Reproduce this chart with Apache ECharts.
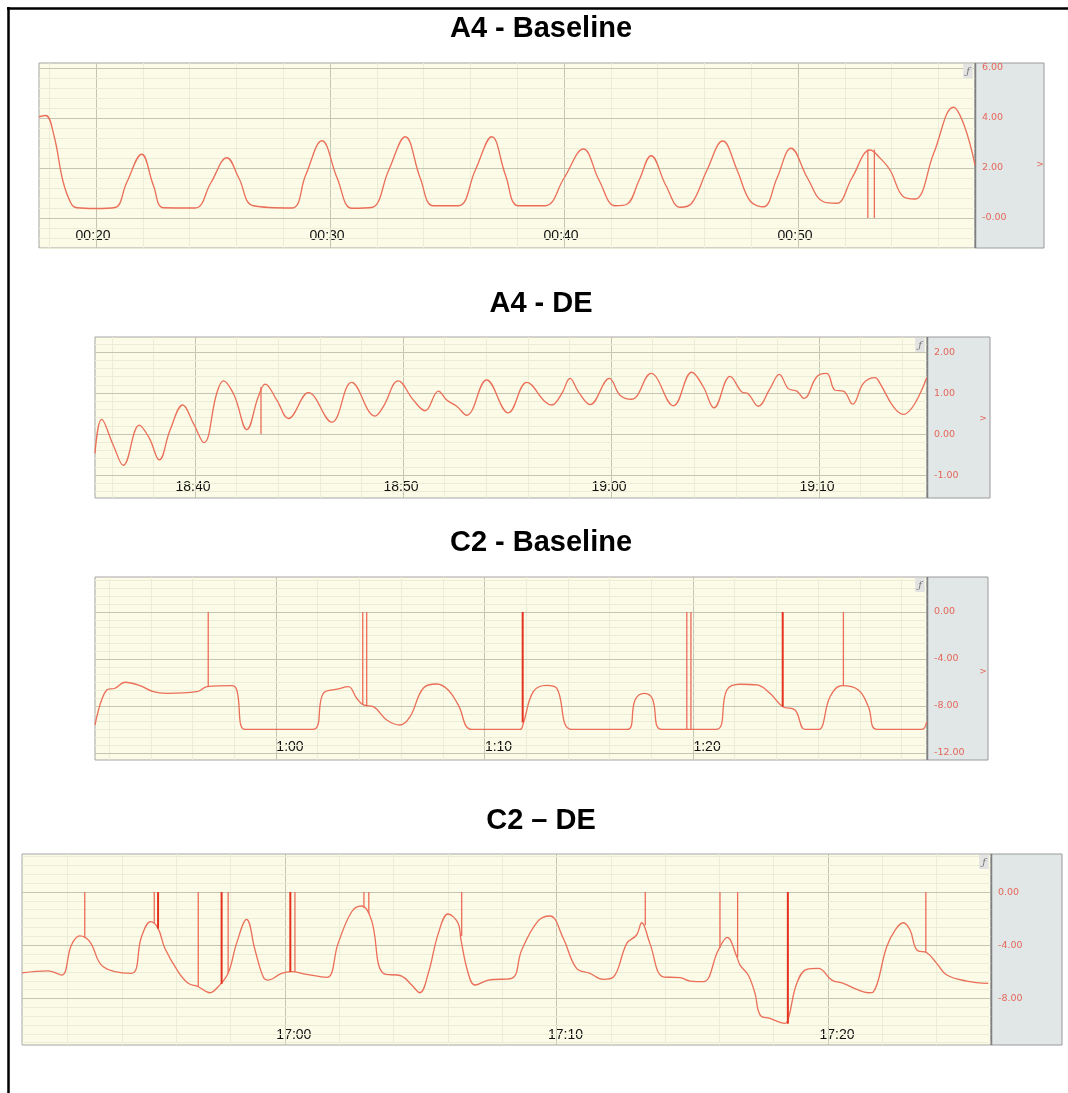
<!DOCTYPE html>
<html><head><meta charset="utf-8">
<script src="https://cdn.jsdelivr.net/npm/echarts@6/dist/echarts.min.js"></script>
<style>html,body{margin:0;padding:0;background:#fff}#c{width:1068px;height:1093px}</style>
</head><body><div id="c"></div>
<script>
// ---------- DATA ----------
const p1Title = 'A4 - Baseline';
const p1Data = [[17.56,4.05],[17.85,4.1],[18.2,3.3],[18.59,1.45],[18.95,0.55],[19.18,0.41],[19.96,0.38],[20.81,0.42],[21.3,1.4],[21.95,2.55],[22.45,1.3],[22.88,0.41],[24.23,0.4],[24.9,1.4],[25.59,2.41],[26.1,1.6],[26.72,0.49],[28.36,0.4],[28.95,1.7],[29.65,3.09],[30.3,1.6],[30.93,0.39],[31.78,0.42],[32.5,1.9],[33.21,3.25],[33.85,1.6],[34.41,0.49],[35.48,0.49],[36.2,1.9],[36.91,3.25],[37.5,1.7],[38.05,0.49],[39.19,0.49],[40.0,1.6],[40.82,2.76],[41.5,1.5],[42.18,0.49],[42.68,0.55],[43.2,1.5],[43.72,2.49],[44.35,1.3],[44.96,0.43],[45.46,0.6],[46.1,1.9],[46.78,3.08],[47.4,1.9],[47.95,0.68],[48.52,0.45],[49.1,1.6],[49.7,2.79],[50.4,1.6],[51.08,0.65],[51.65,0.59],[52.3,1.6],[53.08,2.72],[53.5,2.4],[53.93,1.92],[54.5,0.85],[55.0,0.76],[55.8,2.6],[56.64,4.43],[57.1,3.7],[57.56,2.12]];
const p1Spikes = [[52.98,2.74,0],[53.26,2.74,0]];
const p1SpikesStrong = [];
const p1XTicks = [20,30,40,50];
const p1XLabels = ['00:20','00:30','00:40','00:50'];
const p1YTicks = [0,2,4,6];
const p1YLabels = ['-0.00','2.00','4.00','6.00'];

const p2Title = 'A4 - DE';
const p2Data = [[35.19,-0.47],[35.51,0.36],[36.07,-0.27],[36.55,-0.76],[37.32,0.22],[37.8,-0.1],[38.28,-0.63],[38.8,0.1],[39.41,0.71],[39.92,0.26],[40.43,-0.21],[41.04,0.99],[41.36,1.3],[41.88,0.95],[42.49,0.11],[43.04,0.91],[43.37,1.22],[43.93,0.83],[44.49,0.38],[45.45,1.01],[46.57,0.29],[47.53,1.26],[48.65,0.44],[49.05,0.67],[49.77,1.3],[50.5,0.83],[51.06,0.57],[51.7,1.05],[52.1,0.83],[52.58,0.68],[53.06,0.46],[54.02,1.32],[55.06,0.52],[55.95,1.26],[56.83,0.79],[57.15,0.71],[57.63,0.99],[58.03,1.36],[58.43,1.03],[58.99,0.72],[59.92,1.36],[60.43,0.95],[61.0,0.85],[61.92,1.48],[63.0,0.69],[63.88,1.51],[64.44,1.15],[64.95,0.64],[65.72,1.41],[66.28,1.03],[66.6,0.98],[67.08,0.68],[67.64,1.11],[68.09,1.46],[68.52,1.11],[68.93,1.05],[69.28,0.87],[69.89,1.4],[70.37,1.48],[70.77,1.07],[71.17,1.05],[71.62,0.73],[72.13,1.24],[72.69,1.38],[72.93,1.24],[73.57,0.67],[74.05,0.48],[75.18,1.38]];
const p2Spikes = [[43.17,1.15,0]];
const p2SpikesStrong = [];
const p2XTicks = [40,50,60,70];
const p2XLabels = ['18:40','18:50','19:00','19:10'];
const p2YTicks = [-1,0,1,2];
const p2YLabels = ['-1.00','0.00','1.00','2.00'];

const p3Title = 'C2 - Baseline';
const p3Data = [[51.32,-9.62],[51.88,-6.64],[52.28,-6.49],[52.76,-5.98],[53.48,-6.27],[54.12,-6.78],[54.76,-6.92],[56.2,-6.78],[56.7,-6.36],[57.88,-6.27],[58.12,-6.64],[58.51,-10.0],[61.76,-10.0],[62.27,-6.92],[62.99,-6.55],[63.47,-6.36],[63.87,-7.34],[64.19,-7.91],[64.67,-8.06],[65.31,-9.19],[65.95,-9.62],[66.43,-8.91],[67.06,-6.49],[67.71,-6.13],[68.26,-6.64],[68.74,-7.91],[69.39,-10.0],[71.7,-10.0],[71.86,-9.47],[72.34,-6.78],[72.98,-6.25],[73.46,-6.49],[74.18,-10.0],[76.85,-10.0],[77.22,-7.49],[77.65,-6.92],[78.04,-7.34],[78.5,-10.0],[81.1,-10.0],[81.62,-6.64],[82.25,-6.15],[83.06,-6.21],[83.69,-6.92],[84.3,-8.06],[84.89,-8.34],[85.37,-10.0],[86.01,-10.0],[86.57,-7.21],[87.13,-6.27],[87.93,-6.64],[88.41,-8.06],[88.81,-10.0],[90.97,-10.0],[91.21,-9.34]];
const p3Spikes = [[56.75,-6.36,0],[64.16,-7.9,0],[64.35,-7.95,0],[79.7,-10.0,0],[79.9,-10.0,0],[87.21,-6.27,0]];
const p3SpikesStrong = [[71.83,-9.4,0],[84.3,-8.06,0]];
const p3XTicks = [60,70,80];
const p3XLabels = ['1:00','1:10','1:20'];
const p3YTicks = [-12,-8,-4,0];
const p3YLabels = ['-12.00','-8.00','-4.00','0.00'];

const p4Title = 'C2 \u2013 DE';
const p4Data = [[50.32,-6.07],[51.28,-5.92],[51.78,-6.24],[52.14,-3.98],[52.45,-3.29],[52.82,-3.74],[53.31,-5.62],[54.35,-6.11],[54.72,-3.36],[55.06,-2.23],[55.33,-2.73],[55.58,-4.23],[56.07,-5.99],[56.44,-6.86],[56.81,-7.12],[57.24,-7.57],[57.54,-7.12],[57.91,-6.11],[58.22,-3.86],[58.59,-2.05],[58.9,-4.36],[59.2,-6.37],[59.38,-6.62],[59.88,-6.11],[60.25,-5.99],[60.74,-6.17],[61.54,-6.41],[61.96,-3.86],[62.46,-1.48],[62.83,-1.05],[63.19,-2.11],[63.62,-6.11],[64.3,-6.32],[64.67,-6.99],[64.97,-7.57],[65.28,-6.11],[65.65,-3.11],[66.01,-1.65],[66.38,-2.35],[66.48,-3.56],[66.75,-6.11],[67.0,-6.99],[67.49,-6.62],[68.35,-6.49],[68.72,-4.36],[69.31,-2.2],[69.76,-1.8],[70.25,-3.48],[70.74,-5.74],[71.23,-6.11],[71.72,-6.56],[72.09,-6.41],[72.59,-3.86],[72.95,-3.23],[73.14,-2.31],[73.44,-3.86],[73.93,-6.37],[74.55,-6.44],[74.92,-6.69],[75.41,-6.74],[75.96,-4.36],[76.29,-3.41],[76.64,-4.86],[76.76,-5.49],[77.06,-6.24],[77.31,-7.62],[77.5,-9.25],[77.86,-9.5],[78.42,-9.87],[78.54,-9.5],[78.85,-6.86],[79.22,-5.81],[79.64,-5.74],[80.14,-6.62],[80.56,-6.86],[81.06,-7.32],[81.48,-7.57],[81.67,-7.5],[82.16,-4.11],[82.47,-2.86],[82.77,-2.31],[83.02,-2.86],[83.27,-4.36],[83.64,-4.56],[84.0,-5.36],[84.37,-6.24],[85.11,-6.69],[85.9,-6.86]];
const p4Spikes = [[52.63,-3.4,0],[55.19,-2.4,0],[56.81,-7.12,0],[57.91,-6.1,0],[60.37,-6.0,0],[62.91,-1.2,0],[63.09,-1.6,0],[66.51,-3.3,0],[73.27,-2.5,0],[76.02,-4.2,0],[76.67,-4.9,0],[83.6,-4.5,0]];
const p4SpikesStrong = [[55.33,-2.75,0],[57.67,-6.9,0],[60.2,-6.0,0],[78.52,-9.9,0]];
const p4XTicks = [60,70,80];
const p4XLabels = ['17:00','17:10','17:20'];
const p4YTicks = [-8,-4,0];
const p4YLabels = ['-8.00','-4.00','0.00'];

// ---------- LAYOUT ----------
const panels = [
  {title:p1Title, data:p1Data, spikes:p1Spikes, strong:p1SpikesStrong, xt:p1XTicks, xl:p1XLabels, yt:p1YTicks, yl:p1YLabels,
   titleY:29, left:39, top:63, width:936, height:185, greyW:69, xMin:17.56, xMax:57.56, yMin:-1.2, yMax:6.2, xStep:2, yStep:0.4,
   lblMargin:5, lblPad:[0,6,0,0], arrow:[1040,165]},
  {title:p2Title, data:p2Data, spikes:p2Spikes, strong:p2SpikesStrong, xt:p2XTicks, xl:p2XLabels, yt:p2YTicks, yl:p2YLabels,
   titleY:304, left:95, top:337, width:832, height:161, greyW:63, xMin:35.19, xMax:75.19, yMin:-1.56, yMax:2.37, xStep:2, yStep:0.2,
   lblMargin:4, lblPad:[0,4,0,0], arrow:[983,419]},
  {title:p3Title, data:p3Data, spikes:p3Spikes, strong:p3SpikesStrong, xt:p3XTicks, xl:p3XLabels, yt:p3YTicks, yl:p3YLabels,
   titleY:543, left:95, top:577, width:832, height:183, greyW:61, xMin:51.32, xMax:91.22, yMin:-12.6, yMax:2.98, xStep:2, yStep:4/6,
   lblMargin:6, lblPad:[0,0,0,28], arrow:[983,672]},
  {title:p4Title, data:p4Data, spikes:p4Spikes, strong:p4SpikesStrong, xt:p4XTicks, xl:p4XLabels, yt:p4YTicks, yl:p4YLabels,
   titleY:821, left:22, top:854, width:969, height:191, greyW:71, xMin:50.32, xMax:86.0, yMin:-11.5, yMax:2.86, xStep:2, yStep:4/6,
   lblMargin:3, lblPad:[0,0,0,18], arrow:null}
];

const LINE = '#ea6e58', SPIKE = '#ec6d5a', SPIKE_STRONG = '#e5321f';
const MAJ = '#c4c6b4', MIN = '#ecedd6';

function labelFmt(ticks, labels){
  return function(v){ const i = ticks.findIndex(t => Math.abs(t - v) < 1e-6); return i >= 0 ? labels[i] : ''; };
}
function near(v, arr){ return arr.some(t => Math.abs(t - v) < 1e-6); }
function spikeSeries(i, arr, col, w){
  return {type:'custom', xAxisIndex:i, yAxisIndex:i, data:arr, z:4, silent:true, clip:true,
    encode:{x:0, y:[1,2]},
    renderItem:function(params, api){
      const a = api.coord([api.value(0), api.value(1)]);
      const b = api.coord([api.value(0), api.value(2)]);
      return {type:'line', shape:{x1:a[0], y1:a[1], x2:a[0], y2:b[1]}, style:{stroke:col, lineWidth:w, fill:null}};
    }};
}

const grids=[], xAxes=[], yAxes=[], series=[], graphics=[];
panels.forEach((p, i) => {
  grids.push({left:p.left, top:p.top, width:p.width, height:p.height, show:true, backgroundColor:'#fbfbe7', borderColor:'#a5a5a5', borderWidth:1});
  xAxes.push({type:'value', gridIndex:i, min:p.xMin, max:p.xMax, axisLine:{show:false}, axisTick:{show:false}, splitLine:{show:false},
    axisLabel:{inside:true, customValues:p.xt, formatter:labelFmt(p.xt,p.xl), color:'#111', fontSize:14, fontFamily:'Liberation Sans, Arial', margin:p.lblMargin, padding:p.lblPad, hideOverlap:false, textBorderWidth:0, textShadowBlur:0}});
  yAxes.push({type:'value', gridIndex:i, position:'right', min:p.yMin, max:p.yMax, z:10, axisLine:{show:false}, axisTick:{show:false}, splitLine:{show:false},
    axisLabel:{customValues:p.yt, formatter:labelFmt(p.yt,p.yl), color:'#e5675a', fontSize:9.5, fontFamily:'DejaVu Sans', margin:7, textBorderWidth:0}});
  // gridlines (library-scaled via markLine)
  const gl = [];
  for (let k = Math.ceil(p.xMin / p.xStep); k * p.xStep <= p.xMax; k++) {
    const v = +(k * p.xStep).toFixed(6);
    gl.push({xAxis:v, lineStyle:{color: near(v, p.xt) ? MAJ : MIN, width:1, type:'solid'}});
  }
  for (let k = Math.ceil(p.yMin / p.yStep - 1e-6); k * p.yStep <= p.yMax + 1e-6; k++) {
    const v = +(k * p.yStep).toFixed(6);
    if (near(v, p.yt)) continue;
    gl.push({yAxis:v, lineStyle:{color:MIN, width:1, type:'solid'}});
  }
  p.yt.forEach(v => gl.push({yAxis:v, lineStyle:{color:MAJ, width:1.2, type:'solid'}}));
  series.push({type:'line', xAxisIndex:i, yAxisIndex:i, data:[[p.xMin,p.yMin]], showSymbol:false, lineStyle:{opacity:0}, silent:true, z:1,
    markLine:{silent:true, z:1, symbol:['none','none'], label:{show:false}, animation:false, emphasis:{disabled:true}, data:gl}});
  series.push({type:'line', xAxisIndex:i, yAxisIndex:i, data:p.data, showSymbol:false, smooth:0.4, z:3, color:LINE,
    lineStyle:{color:LINE, width:1.3}, silent:true});
  series.push(spikeSeries(i, p.spikes, SPIKE, 1.3));
  series.push(spikeSeries(i, p.strong, SPIKE_STRONG, 2));
  // side panel, title, decorations
  graphics.push({type:'rect', z:1, shape:{x:p.left + p.width, y:p.top, width:p.greyW, height:p.height}, style:{fill:'#e1e6e7', stroke:'#9a9a9a', lineWidth:1}});
  graphics.push({type:'line', z:2, shape:{x1:p.left + p.width + 0.5, y1:p.top, x2:p.left + p.width + 0.5, y2:p.top + p.height}, style:{stroke:'#7f7f7f', lineWidth:1.5}});
  graphics.push({type:'text', z:10, x:541, y:p.titleY, style:{text:p.title, font:'bold 29px "Liberation Sans", Arial', fill:'#000', textAlign:'center', textVerticalAlign:'middle'}});
  graphics.push({type:'text', z:10, x:p.left + p.width - 7, y:p.top + 8, style:{text:'ƒ', font:'italic 10px "DejaVu Serif"', fill:'#777', textAlign:'center', textVerticalAlign:'middle', backgroundColor:'#e3e3e3', padding:[2,3]}});
  if (p.arrow) graphics.push({type:'text', z:10, x:p.arrow[0], y:p.arrow[1], style:{text:'>', font:'9px "DejaVu Sans"', fill:'#e5675a', textAlign:'center', textVerticalAlign:'middle'}});
});
// outer frame
graphics.push({type:'line', z:20, shape:{x1:7, y1:8.5, x2:1068, y2:8.5}, style:{stroke:'#000', lineWidth:2.5}});
graphics.push({type:'line', z:20, shape:{x1:8.5, y1:7, x2:8.5, y2:1093}, style:{stroke:'#000', lineWidth:2.5}});

const chart = echarts.init(document.getElementById('c'), null, {renderer:'canvas'});
chart.setOption({animation:false, grid:grids, xAxis:xAxes, yAxis:yAxes, series:series, graphic:graphics});
</script></body></html>
